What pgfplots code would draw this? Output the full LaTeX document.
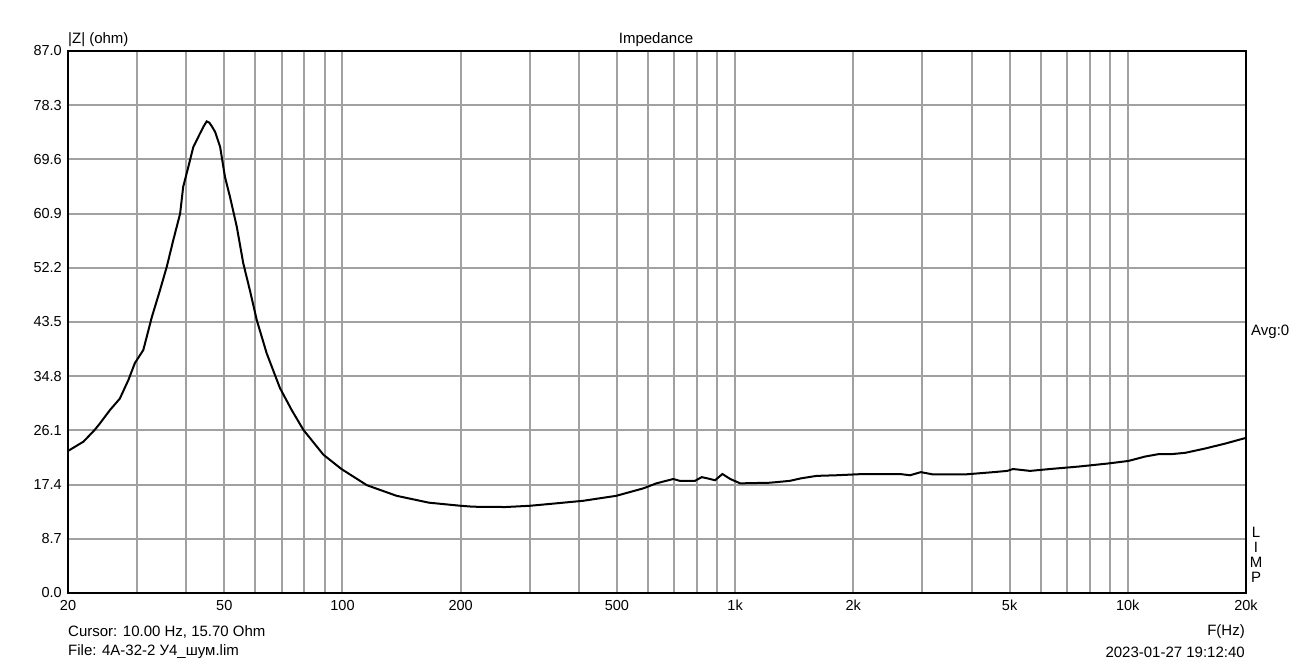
\documentclass[border=0pt]{standalone}
\usepackage{pgfplots}
\pgfplotsset{compat=1.18}
\usepackage{fontspec}
\setmainfont{Liberation Sans}
\begin{document}
\fontsize{15}{17}\selectfont
\begin{tikzpicture}
\fill[white] (0,0) rectangle (1314pt,665pt);
\path[use as bounding box] (0,0) rectangle (1314pt,665pt);
\begin{axis}[
  at={(68pt,72pt)}, anchor=south west,
  scale only axis, width=1178pt, height=542pt,
  xmode=log, xmin=20, xmax=20000, ymin=0, ymax=87,
  xtick={20,50,100,200,500,1000,2000,5000,10000,20000},
  xticklabels={20,50,100,200,500,1k,2k,5k,10k,20k},
  minor xtick={30,40,60,70,80,90,300,400,600,700,800,900,3000,4000,6000,7000,8000,9000},
  ytick={0,8.7,17.4,26.1,34.8,43.5,52.2,60.9,69.6,78.3,87},
  yticklabels={0.0,8.7,17.4,26.1,34.8,43.5,52.2,60.9,69.6,78.3,87.0},
  major tick length=0pt, minor tick length=0pt,
  grid=both,
  major grid style={draw=black!37, line width=2pt},
  minor grid style={draw=black!37, line width=2pt},
  axis line style={line width=2.5pt},
  tick label style={font=\fontsize{14.5}{16}\selectfont},
  yticklabel style={xshift=-1pt},
  xticklabel style={yshift=-2pt},
  clip=true,
]
\addplot[black, line width=2pt] coordinates {
(20,22.8) (21.9,24.3) (23.4,26.2) (24.1,27.2) (25.6,29.4) (27.1,31.2) (28.5,34.2)
(29.6,36.9) (31.1,39.0) (32.7,44.3) (34.3,48.6) (35.7,52.4) (37.1,56.7) (38.6,60.9)
(39.3,65.2) (40.5,68.4) (41.7,71.6) (43.4,73.8) (44.3,74.9) (45.1,75.7) (45.8,75.5) (46.5,74.9) (47.4,74.0)
(48.8,71.6) (50.2,66.8) (51.7,63.6) (53.8,58.8) (55.9,52.9) (58.1,48.6) (60.5,43.8)
(64.1,38.5) (69.3,32.9) (74.2,29.4) (79.5,26.2) (89.4,22.2) (99.4,19.9) (115.4,17.3)
(137.4,15.6) (166,14.5) (200,14.0) (215,13.85) (260,13.8) (300,14.0) (338,14.3)
(410,14.8) (498,15.6) (584,16.8) (630,17.6) (696,18.3) (723,18.0) (790,18.0)
(822,18.6) (850,18.4) (889,18.1) (928,19.1) (972,18.3) (1030,17.6) (1226,17.7)
(1378,18.0) (1470,18.4) (1612,18.8) (1812,18.9) (2124,19.1) (2628,19.1) (2790,18.9)
(2970,19.4) (3180,19.05) (3880,19.05) (4550,19.4) (4930,19.6) (5100,19.9) (5640,19.6)
(6330,19.9) (7510,20.3) (8940,20.8) (10040,21.2) (11060,21.9) (12000,22.3) (12960,22.3)
(14000,22.5) (15760,23.2) (17740,24.0) (20000,24.9)
};
\end{axis}
\node[anchor=west, inner sep=0pt] at (68pt,625pt) {|Z| (ohm)};
\node[inner sep=0pt] at (656pt,625pt) {Impedance};
\node[anchor=west, inner sep=0pt] at (1251pt,333pt) {Avg:0};
\node[inner sep=0pt, align=center, font=\fontsize{15}{15}\selectfont] at (1256pt,110pt) {L\\I\\M\\P};
\node[anchor=west, inner sep=0pt] at (68pt,33pt) {Cursor: 10.00 Hz, 15.70 Ohm};
\node[anchor=west, inner sep=0pt] at (68pt,13pt) {File: 4A-32-2 У4\_шум.lim};
\node[anchor=east, inner sep=0pt] at (1245pt,33pt) {F(Hz)};
\node[anchor=east, inner sep=0pt] at (1245pt,13pt) {2023-01-27 19:12:40};
\end{tikzpicture}
\end{document}
